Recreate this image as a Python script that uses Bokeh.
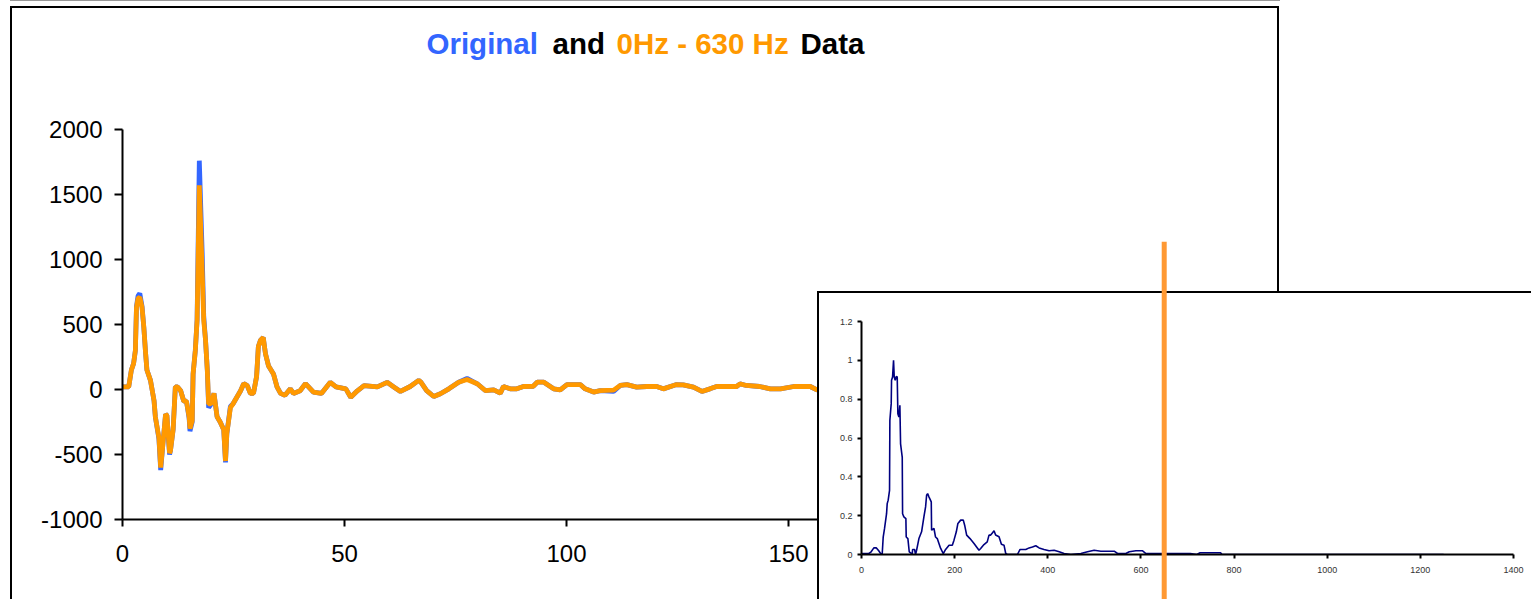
from bokeh.plotting import figure
from bokeh.models import Div, Label, FixedTicker, Range1d, NumeralTickFormatter
from bokeh.embed import file_html
from bokeh.resources import INLINE

# ---------------- data ----------------
time_x = [0, 1.4, 2.0, 2.5, 2.9, 3.15, 3.5, 3.9, 4.4, 4.8, 5.2, 5.5, 6.3, 7.1, 7.4, 8.2, 8.6,
          9.1, 9.7, 10.0, 10.6, 10.8, 11.4, 11.9, 12.4, 13.1, 13.8, 14.4, 15.0, 15.2, 15.7,
          15.9, 16.4, 16.8, 17.3, 17.95, 18.3, 18.7, 19.1, 19.4, 19.8, 20.1, 20.6, 21.3, 22.0,
          22.8, 23.2, 23.5, 24.3, 24.9, 26.6, 27.3, 28.1, 28.8, 29.5, 30.2, 30.6, 31.1, 31.7,
          32.2, 32.9, 34.0, 34.8, 35.6, 36.6, 37.8, 38.5, 40.0, 41.2, 41.9, 43.0, 44.8, 46.8,
          48.1, 50.3, 51.4, 52.9, 54.4, 57.4, 59.6, 61.1, 62.6, 64.8, 66.7, 67.2, 68.5, 70.1,
          71.6, 73.5, 75.7, 77.6, 79.9, 81.7, 83.6, 85.1, 85.8, 87.3, 88.8, 90.3, 92.5, 93.4,
          94.9, 97.1, 98.6, 100.1, 103.1, 104.2, 106.1, 107.6, 110.6, 112.1, 113.6, 115.8,
          118.1, 120.3, 121.8, 124.8, 126.3, 128.6, 130.5, 132.3, 133.8, 138.3, 139.1, 140.5,
          143.5, 145.9, 148.2, 151.2, 154.9, 156.4, 158.0]

filtered_y = [20, 20, 150, 200, 300, 630, 700, 710, 630, 480, 280, 150, 70, -85, -210, -370, -600,
              -420, -190, -200, -490, -470, -310, 20, 20, -10, -90, -90, -210, -300, -240,
              120, 300, 530, 1570, 900, 530, 380, 150, -110, -110, -100, -30, -210, -250,
              -310, -550, -340, -140, -110, -10, 45, 30, -30, -30, 100, 330, 380, 400,
              275, 180, 120, 20, -30, -45, 5, -30, -10, 45, 20, -20, -30, 55,
              20, 5, -60, -10, 30, 20, 55, 20, -15, 23, 70, 56, -8, -54,
              -33, 5, 56, 77, 44, -8, -3, -28, 23, 5, 5, 23, 25, 56,
              56, 5, -3, 38, 38, 5, -20, -8, -5, 31, 38, 18,
              23, 23, 5, 38, 36, 18, -15, 5, 23, 23, 43, 31,
              23, 5, 5, 23, 23, -3, 5]

original_y = [20, 20, 150, 200, 300, 640, 720, 740, 640, 480, 280, 150, 70, -85, -210, -380, -620,
              -420, -190, -200, -500, -470, -310, 20, 20, -10, -90, -90, -220, -320, -250,
              120, 300, 540, 1760, 1050, 560, 380, 150, -140, -120, -100, -30, -210, -250,
              -310, -560, -340, -130, -110, -10, 45, 30, -30, -30, 100, 330, 380, 400,
              275, 180, 120, 20, -30, -45, 5, -30, -10, 45, 20, -20, -30, 55,
              20, 5, -60, -10, 30, 20, 55, 20, -15, 23, 70, 56, -8, -54,
              -33, 5, 56, 85, 44, -8, -3, -28, 23, 5, 5, 23, 25, 56,
              56, 5, -3, 38, 38, 5, -20, -8, -15, 31, 38, 18,
              23, 23, 5, 38, 36, 18, -15, 5, 23, 23, 43, 31,
              23, 5, 5, 23, 23, -3, 5]

main_x_ticks = [0, 50, 100, 150, 200, 250]
main_y_ticks = [-1000, -500, 0, 500, 1000, 1500, 2000]

title_words = ["Original", "and", "0Hz - 630 Hz", "Data"]
title_colors = ["#3366FF", "#000000", "#FF9900", "#000000"]

spec_hz = [0, 15.8, 20, 26.5, 32, 37, 41, 44.4, 46.6, 49.5, 53.8, 55.2, 57.3, 60.2, 60.9, 63.8,
           64.5, 66.7, 68.8, 70.3, 72.4, 74.6, 76.7, 78.1, 80.3, 82.4, 83.9, 87.5, 88.2, 91,
           95.3, 96, 99.6, 102.5, 109, 109.7, 114, 116, 118.3, 123.3, 129, 134, 137.6, 139.8,
           142, 144.8, 149.8, 150.5, 155.6, 159, 162.7, 166.3, 170, 175.6, 180.6, 188, 195,
           198.6, 203.6, 207, 213, 218.6, 221.5, 225.8, 233, 241.6, 252.3, 255.9, 263, 270,
           273.8, 277.4, 281, 284.6, 288, 295.3, 300.4, 306, 309.7, 313, 334.8, 340.5, 352.7,
           359.9, 367, 374.2, 381.4, 392, 402.9, 413.6, 424.4, 435, 449.5, 471, 485.3, 499.6,
           514, 542.6, 549.8, 567.7, 575, 589.2, 603.6, 610.8, 706, 720, 727, 771, 774, 1250]

spec_amp = [0.005, 0.005, 0.012, 0.034, 0.034, 0.019, 0.005, 0.0, 0.09, 0.134, 0.21, 0.262, 0.28,
            0.33, 0.69, 0.777, 0.897, 0.914, 1.0, 0.914, 0.897, 0.917, 0.914, 0.725, 0.708,
            0.768, 0.57, 0.5, 0.21, 0.194, 0.185, 0.09, 0.082, 0.014, 0.002, 0.026, 0.026, 0.0,
            0.022, 0.082, 0.117, 0.194, 0.245, 0.305, 0.314, 0.297, 0.271, 0.125, 0.134, 0.09,
            0.082, 0.057, 0.031, 0.005, 0.026, 0.048, 0.048, 0.074, 0.117, 0.16, 0.177, 0.177,
            0.151, 0.1, 0.082, 0.057, 0.022, 0.031, 0.051, 0.065, 0.1, 0.1, 0.111, 0.122, 0.1,
            0.091, 0.053, 0.048, 0.005, 0.0, 0.0, 0.026, 0.026, 0.034, 0.039, 0.045, 0.034,
            0.026, 0.019, 0.022, 0.014, 0.005, 0.0, 0.005, 0.014, 0.022, 0.017, 0.017, 0.005,
            0.005, 0.014, 0.019, 0.019, 0.005, 0.005, 0.0, 0.009, 0.009, 0.0, 0.0]

spec_x_ticks = [0, 200, 400, 600, 800, 1000, 1200, 1400]
spec_y_ticks = [0, 0.2, 0.4, 0.6, 0.8, 1.0, 1.2]
cutoff_hz = 650

FONT = "Liberation Sans"


def absolute(left, top, extra=None):
    s = {"position": "absolute", "left": f"{left}px", "top": f"{top}px"}
    if extra:
        s.update(extra)
    return s


# ---------------- main chart ----------------
W, H = 1531, 599
p = figure(width=W, height=H, output_backend="svg", toolbar_location=None,
           x_range=Range1d(0, 250), y_range=Range1d(-1000, 2000),
           min_border_left=122, min_border_top=129, min_border_right=299, min_border_bottom=80,
           background_fill_color="white", border_fill_color="white",
           outline_line_color=None, styles=absolute(0, 0))
p.grid.visible = False

p.line(time_x, original_y, line_color="#3366FF", line_width=4.8)
p.line(time_x, filtered_y, line_color="#FF9900", line_width=4.8)

for ax in (p.xaxis[0], p.yaxis[0]):
    ax.axis_line_color = "black"
    ax.axis_line_width = 2
    ax.major_tick_line_color = "black"
    ax.major_tick_line_width = 2
    ax.major_tick_in = 0
    ax.minor_tick_line_color = None
    ax.major_label_text_font = FONT
    ax.major_label_text_font_size = "24px"
    ax.major_label_text_color = "black"
    ax.formatter = NumeralTickFormatter(format="0")
p.xaxis[0].ticker = FixedTicker(ticks=main_x_ticks)
p.yaxis[0].ticker = FixedTicker(ticks=main_y_ticks)
p.xaxis[0].major_tick_out = 7
p.yaxis[0].major_tick_out = 8
p.xaxis[0].major_label_standoff = 18
p.yaxis[0].major_label_standoff = 12

# ---------------- title strip (transparent, drawn over the chart) ----------------
t = figure(width=1110, height=50, output_backend="svg", toolbar_location=None,
           x_range=Range1d(0, 1110), y_range=Range1d(0, 50),
           x_axis_location=None, y_axis_location=None, min_border=0,
           background_fill_color=None, border_fill_color=None, outline_line_color=None,
           styles=absolute(122, 20))
t.grid.visible = False
word_left = [304, 430, 494, 678]
for word, col, xl in zip(title_words, title_colors, word_left):
    t.add_layout(Label(x=xl, y=27, text=word, text_color=col, text_font=FONT,
                       text_font_size="29.5px", text_font_style="bold",
                       text_align="left", text_baseline="alphabetic"))

# decorations of the chart area
top_rule = Div(text="", margin=0, styles=absolute(10, 0, {"width": "1270px", "height": "1px",
                                                           "background": "#999999"}))
main_box = Div(text="", margin=0, styles=absolute(10, 6, {"width": "1269px", "height": "593px",
                                                           "box-sizing": "border-box",
                                                           "border-left": "2px solid black",
                                                           "border-top": "2px solid black",
                                                           "border-right": "2px solid black"}))

# ---------------- inset spectrum ----------------
inset_box = Div(text="", margin=0, styles=absolute(817, 291, {"width": "714px", "height": "308px",
                                                               "box-sizing": "border-box",
                                                               "background": "white",
                                                               "border-left": "2px solid black",
                                                               "border-top": "2px solid black"}))

q = figure(width=712, height=306, output_backend="svg", toolbar_location=None,
           x_range=Range1d(0, 1400), y_range=Range1d(0, 1.2),
           min_border_left=42, min_border_top=28, min_border_right=18, min_border_bottom=45,
           background_fill_color="white", border_fill_color="white",
           outline_line_color=None, styles=absolute(819, 293))
q.grid.visible = False
q.line(spec_hz, spec_amp, line_color="#000080", line_width=1.6)
for ax in (q.xaxis[0], q.yaxis[0]):
    ax.axis_line_color = "black"
    ax.axis_line_width = 2
    ax.major_tick_line_color = "black"
    ax.major_tick_line_width = 2
    ax.major_tick_in = 0
    ax.major_tick_out = 4
    ax.minor_tick_line_color = None
    ax.major_label_text_font = FONT
    ax.major_label_text_font_size = "9px"
    ax.major_label_text_color = "#333333"
q.xaxis[0].ticker = FixedTicker(ticks=spec_x_ticks)
q.yaxis[0].ticker = FixedTicker(ticks=spec_y_ticks)
q.yaxis[0].formatter = NumeralTickFormatter(format="0.[0]")
q.xaxis[0].major_label_standoff = 8
q.yaxis[0].major_label_standoff = 5

# ---------------- cutoff marker (same frequency scale as the inset) ----------------
r = figure(width=712, height=358, output_backend="svg", toolbar_location=None,
           x_range=Range1d(0, 1400), y_range=Range1d(0, 1),
           x_axis_location=None, y_axis_location=None,
           min_border_left=42, min_border_top=0, min_border_right=18, min_border_bottom=0,
           background_fill_color=None, border_fill_color=None,
           outline_line_color=None, styles=absolute(819, 241))
r.grid.visible = False
r.segment(x0=[cutoff_hz], y0=[0], x1=[cutoff_hz], y1=[1], line_color="#FF9933", line_width=5)

roots = [p, t, top_rule, main_box, inset_box, q, r]
open("out.html", "w").write(file_html(roots, INLINE, title="Original and 0Hz - 630 Hz Data"))
